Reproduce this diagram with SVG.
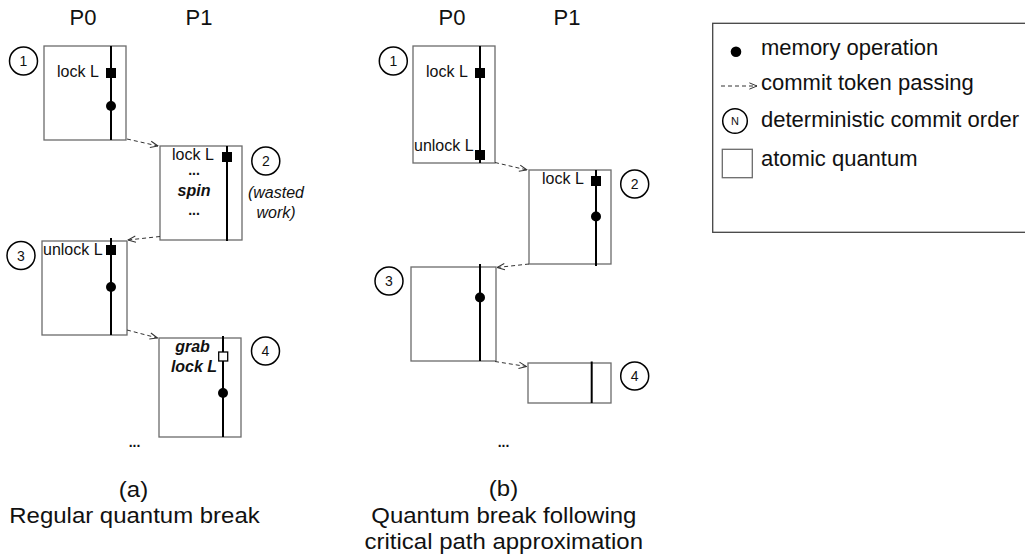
<svg xmlns="http://www.w3.org/2000/svg" width="1025" height="557" viewBox="0 0 1025 557">
<defs>
<marker id="ah" viewBox="0 0 10 10" refX="9.5" refY="5" markerWidth="9" markerHeight="9" markerUnits="userSpaceOnUse" orient="auto"><path d="M1,1.5 L9.5,5 L1,8.5" fill="none" stroke="#333" stroke-width="1.1"/></marker>
</defs>
<style>
text{font-family:"Liberation Sans",Arial,Helvetica,sans-serif;fill:#111}
.q{fill:#fff;stroke:#6b6b6b;stroke-width:1.3}
.tl{stroke:#000;stroke-width:2}
.sq{fill:#000}
.osq{fill:#fff;stroke:#000;stroke-width:1.3}
.dot{fill:#000}
.num{fill:none;stroke:#000;stroke-width:1.5}
.nt{font-size:14px;text-anchor:middle}
.lb{font-size:16px}
.bi{font-size:16px;font-weight:bold;font-style:italic;text-anchor:middle}
.b{font-size:14px;font-weight:bold;text-anchor:middle}
.it{font-size:16px;font-style:italic;text-anchor:middle}
.hd{font-size:22px;text-anchor:middle}
.cap{font-size:22px;text-anchor:middle}
.lg{font-size:22px}
.tok{fill:none;stroke:#333;stroke-width:1;stroke-dasharray:4 3;marker-end:url(#ah)}
</style>

<!-- headers -->
<g id="headers">
<text class="hd" x="83" y="25">P0</text>
<text class="hd" x="199" y="25">P1</text>
<text class="hd" x="452" y="25">P0</text>
<text class="hd" x="567" y="25">P1</text>
</g>

<!-- (a) regular quantum break -->
<g id="a-q1">
<rect class="q" x="44" y="46" width="82" height="94"/>
<line class="tl" x1="111" y1="46" x2="111" y2="140"/>
<rect class="sq" x="106" y="68" width="10" height="10"/>
<circle class="dot" cx="111" cy="106" r="5"/>
<text class="lb" x="57" y="77">lock L</text>
</g>
<g id="a-n1"><circle class="num" cx="23.5" cy="61" r="14"/><text class="nt" x="23.5" y="66">1</text></g>

<g id="a-q2">
<rect class="q" x="160" y="146" width="82" height="94"/>
<line class="tl" x1="227" y1="146" x2="227" y2="241"/>
<rect class="sq" x="222" y="152" width="10" height="10"/>
<text class="lb" x="172" y="160">lock L</text>
<text class="b" x="194" y="175">...</text>
<text class="bi" x="194" y="196">spin</text>
<text class="b" x="194" y="215">...</text>
</g>
<g id="a-n2"><circle class="num" cx="265.8" cy="161" r="14"/><text class="nt" x="265.8" y="166">2</text></g>
<g id="a-note">
<text class="it" x="276" y="198">(wasted</text>
<text class="it" x="276" y="218">work)</text>
</g>

<g id="a-q3">
<rect class="q" x="42" y="241" width="85" height="94"/>
<line class="tl" x1="111" y1="238" x2="111" y2="335"/>
<rect class="sq" x="106" y="245" width="10" height="10"/>
<circle class="dot" cx="111" cy="287" r="5"/>
<text class="lb" x="43" y="255">unlock L</text>
</g>
<g id="a-n3"><circle class="num" cx="21" cy="255.5" r="14"/><text class="nt" x="21" y="260.5">3</text></g>

<g id="a-q4">
<rect class="q" x="159" y="338" width="82" height="99"/>
<line class="tl" x1="223" y1="336" x2="223" y2="437"/>
<rect class="osq" x="218.7" y="352" width="9" height="9"/>
<circle class="dot" cx="223" cy="393" r="5"/>
<text class="bi" x="192.5" y="352">grab</text>
<text class="bi" x="194" y="372">lock L</text>
</g>
<g id="a-n4"><circle class="num" cx="265.5" cy="351" r="14"/><text class="nt" x="265.5" y="356">4</text></g>
<text class="b" x="134.5" y="447">...</text>

<!-- (b) critical path -->
<g id="b-q1">
<rect class="q" x="413" y="46" width="82" height="117"/>
<line class="tl" x1="480" y1="46" x2="480" y2="163"/>
<rect class="sq" x="475" y="68" width="10" height="10"/>
<rect class="sq" x="475" y="150" width="10" height="10"/>
<text class="lb" x="426" y="77">lock L</text>
<text class="lb" x="414" y="151">unlock L</text>
</g>
<g id="b-n1"><circle class="num" cx="393.3" cy="61" r="14"/><text class="nt" x="393.3" y="66">1</text></g>

<g id="b-q2">
<rect class="q" x="529" y="170" width="82" height="94"/>
<line class="tl" x1="596" y1="170" x2="596" y2="266"/>
<rect class="sq" x="591" y="176" width="10" height="10"/>
<circle class="dot" cx="596" cy="216.5" r="5"/>
<text class="lb" x="542" y="184">lock L</text>
</g>
<g id="b-n2"><circle class="num" cx="634.7" cy="184" r="14"/><text class="nt" x="634.7" y="189">2</text></g>

<g id="b-q3">
<rect class="q" x="411" y="267" width="85" height="94"/>
<line class="tl" x1="480" y1="264" x2="480" y2="361"/>
<circle class="dot" cx="480" cy="297.5" r="5"/>
</g>
<g id="b-n3"><circle class="num" cx="389" cy="281" r="14"/><text class="nt" x="389" y="286">3</text></g>

<g id="b-q4">
<rect class="q" x="528" y="363" width="83" height="40"/>
<line class="tl" x1="591.7" y1="361.5" x2="591.7" y2="403"/>
</g>
<g id="b-n4"><circle class="num" cx="634.7" cy="376" r="14"/><text class="nt" x="634.7" y="381">4</text></g>
<text class="b" x="503.5" y="447">...</text>

<!-- connectors -->
<g id="connectors">
<line class="tok" x1="127" y1="139" x2="158" y2="146"/>
<line class="tok" x1="160" y1="236.5" x2="128" y2="240"/>
<line class="tok" x1="127" y1="330" x2="157.5" y2="338"/>
<line class="tok" x1="495" y1="162.5" x2="527" y2="170"/>
<line class="tok" x1="529" y1="264" x2="497" y2="267.5"/>
<line class="tok" x1="495" y1="361.5" x2="526.5" y2="366.5"/>
</g>

<!-- captions -->
<g id="captions">
<text class="cap" transform="translate(133.5 496.5) scale(1.09 1)">(a)</text>
<text class="cap" transform="translate(134.5 522.7) scale(1.09 1)">Regular quantum break</text>
<text class="cap" transform="translate(503.5 495.7) scale(1.09 1)">(b)</text>
<text class="cap" transform="translate(503.8 523.3) scale(1.09 1)">Quantum break following</text>
<text class="cap" transform="translate(503.8 549) scale(1.09 1)">critical path approximation</text>
</g>

<!-- legend -->
<g id="legend">
<rect x="712.7" y="23.3" width="330" height="209" fill="#fff" stroke="#444" stroke-width="1.3"/>
<circle class="dot" cx="736" cy="51.7" r="5.3"/>
<text class="lg" x="761" y="55">memory operation</text>
<line class="tok" x1="721" y1="86" x2="757" y2="86"/>
<text class="lg" x="761" y="90">commit token passing</text>
<circle class="num" cx="735" cy="121" r="12.3"/>
<text x="735" y="125" style="font-size:11px;text-anchor:middle">N</text>
<text class="lg" x="761" y="127">deterministic commit order</text>
<rect class="q" x="722.3" y="149.3" width="30" height="28.4"/>
<text class="lg" x="761" y="166">atomic quantum</text>
</g>
</svg>
